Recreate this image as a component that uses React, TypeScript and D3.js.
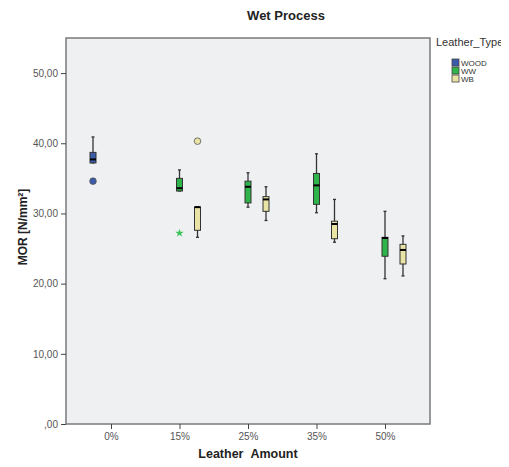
import React, { useEffect, useRef } from "react";
import * as d3 from "d3";

const amounts = ["0%", "15%", "25%", "35%", "50%"];
const leatherTypes = ["WOOD", "WW", "WB"];
const typeColors = ["#3b5bab", "#2fb34b", "#e9e3a6"];
const yTicks = [0, 10, 20, 30, 40, 50];

// box statistics: [amount, type, low, q1, median, q3, high]
const boxes: [string, string, number, number, number, number, number][] = [
  ["0%", "WOOD", 37.2, 37.2, 37.7, 38.7, 40.9],
  ["15%", "WW", 33.2, 33.2, 33.6, 35.0, 36.2],
  ["15%", "WB", 26.6, 27.6, 30.9, 30.9, 30.9],
  ["25%", "WW", 30.9, 31.5, 33.8, 34.6, 35.8],
  ["25%", "WB", 29.0, 30.3, 32.0, 32.4, 33.8],
  ["35%", "WW", 30.1, 31.3, 34.0, 35.7, 38.5],
  ["35%", "WB", 25.9, 26.4, 28.5, 28.9, 32.0],
  ["50%", "WW", 20.7, 23.9, 26.5, 26.6, 30.3],
  ["50%", "WB", 21.1, 22.8, 24.8, 25.6, 26.8],
];

// outliers: [amount, type, value, kind]
const outliers: [string, string, number, string][] = [
  ["0%", "WOOD", 34.6, "circle"],
  ["15%", "WB", 40.3, "circle"],
  ["15%", "WW", 27.2, "star"],
];

const App = () => {
  const ref = useRef<SVGSVGElement>(null);

  useEffect(() => {
    const svg = d3.select(ref.current);
    svg.selectAll("*").remove();

    const left = 66, right = 430, top = 38, bottom = 424;
    const font = "Arial, 'Liberation Sans', sans-serif";

    const x = d3.scalePoint().domain(amounts).range([left, right]).padding(0.657);
    const dx = d3.scalePoint().domain(leatherTypes).range([-18, 18]);
    const y = d3.scaleLinear().domain([0, 55]).range([bottom, top]);
    const color = d3.scaleOrdinal<string>().domain(leatherTypes).range(typeColors);

    svg.append("rect").attr("width", 509).attr("height", 467).attr("fill", "#fff");

    svg
      .append("rect")
      .attr("x", left)
      .attr("y", top)
      .attr("width", right - left)
      .attr("height", bottom - top)
      .attr("fill", "#eff0f2")
      .attr("stroke", "#7a7a7a")
      .attr("stroke-width", 1.5);

    const yAxis = svg
      .append("g")
      .attr("transform", `translate(${left},0)`)
      .call(
        d3
          .axisLeft(y)
          .tickValues(yTicks)
          .tickSize(5)
          .tickFormat((d) => (d === 0 ? ",00" : d3.format(".2f")(d as number).replace(".", ",")))
      );
    yAxis.select(".domain").remove();
    yAxis.selectAll("line").attr("stroke", "#444");
    yAxis.selectAll("text").attr("fill", "#555").style("font-size", "10px").style("font-family", font);

    const xAxis = svg
      .append("g")
      .attr("transform", `translate(0,${bottom})`)
      .call(d3.axisBottom(x).tickSize(5).tickPadding(4));
    xAxis.select(".domain").remove();
    xAxis.selectAll("line").attr("stroke", "#444");
    xAxis.selectAll("text").attr("fill", "#555").style("font-size", "10px").style("font-family", font);

    const bw = 6;
    const g = svg.append("g");
    boxes.forEach(([amt, type, lo, q1, med, q3, hi]) => {
      const cx = (x(amt) as number) + (dx(type) as number);
      g.append("line")
        .attr("x1", cx).attr("x2", cx)
        .attr("y1", y(hi)).attr("y2", y(lo))
        .attr("stroke", "#333").attr("stroke-width", 1.3);
      [lo, hi].forEach((v) =>
        g.append("line")
          .attr("x1", cx - 1.5).attr("x2", cx + 1.5)
          .attr("y1", y(v)).attr("y2", y(v))
          .attr("stroke", "#333").attr("stroke-width", 1.3)
      );
      g.append("rect")
        .attr("x", cx - bw / 2)
        .attr("y", y(q3))
        .attr("width", bw)
        .attr("height", Math.max(1, y(q1) - y(q3)))
        .attr("fill", color(type))
        .attr("stroke", "#333")
        .attr("stroke-width", 1);
      g.append("line")
        .attr("x1", cx - bw / 2).attr("x2", cx + bw / 2)
        .attr("y1", y(med)).attr("y2", y(med))
        .attr("stroke", "#000").attr("stroke-width", 2);
    });

    outliers.forEach(([amt, type, v, kind]) => {
      const cx = (x(amt) as number) + (dx(type) as number);
      if (kind === "circle") {
        g.append("circle")
          .attr("cx", cx).attr("cy", y(v)).attr("r", 3.3)
          .attr("fill", color(type)).attr("stroke", "#555").attr("stroke-width", 0.8);
      } else {
        g.append("path")
          .attr("d", d3.symbol(d3.symbolStar, 22)())
          .attr("transform", `translate(${cx},${y(v)})`)
          .attr("fill", "#3cc35a");
      }
    });

    svg.append("text")
      .attr("x", 286).attr("y", 20)
      .attr("text-anchor", "middle")
      .style("font-family", font).style("font-size", "13px").style("font-weight", "bold")
      .attr("fill", "#222")
      .text("Wet Process");

    svg.append("text")
      .attr("transform", "translate(27,227) rotate(-90)")
      .attr("text-anchor", "middle")
      .style("font-family", font).style("font-size", "12px").style("font-weight", "bold")
      .attr("fill", "#222")
      .text("MOR [N/mm²]");

    svg.append("text")
      .attr("x", (left + right) / 2).attr("y", 458)
      .attr("text-anchor", "middle")
      .style("font-family", font).style("font-size", "12.5px").style("font-weight", "bold")
      .attr("fill", "#222")
      .text("Leather_Amount");

    const legend = svg.append("g").attr("transform", "translate(436,0)");
    legend.append("text")
      .attr("x", 0).attr("y", 46)
      .style("font-family", font).style("font-size", "11px")
      .attr("fill", "#333")
      .text("Leather_Type");
    leatherTypes.forEach((t, i) => {
      legend.append("rect")
        .attr("x", 16).attr("y", 59 + i * 8)
        .attr("width", 7).attr("height", 7)
        .attr("fill", color(t)).attr("stroke", "#444").attr("stroke-width", 0.8);
      legend.append("text")
        .attr("x", 25).attr("y", 66 + i * 8)
        .style("font-family", font).style("font-size", "8px")
        .attr("fill", "#333")
        .text(t);
    });
  }, []);

  return (
    <div style={{ width: 509, height: 467, margin: -8 }}>
      <svg ref={ref} width={509} height={467} style={{ display: "block" }}></svg>
    </div>
  );
};

export default App;
